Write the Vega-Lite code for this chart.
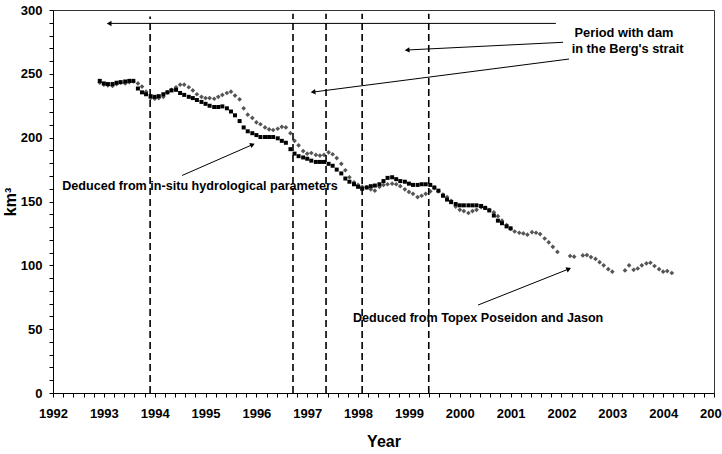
{
  "$schema": "https://vega.github.io/schema/vega-lite/v6.json",
  "width": 661,
  "height": 383,
  "autosize": {"type": "none"},
  "padding": {"left": 53, "top": 10, "right": 8, "bottom": 61},
  "background": "white",
  "config": {
    "view": {"stroke": "#333", "strokeWidth": 1},
    "font": "Liberation Sans",
    "axis": {
      "labelFont": "Liberation Sans", "labelFontWeight": "bold", "labelFontSize": 13, "labelColor": "#000",
      "titleFont": "Liberation Sans", "titleFontWeight": "bold", "titleFontSize": 16, "titleColor": "#000",
      "domainColor": "#000", "tickColor": "#000", "grid": false, "tickSize": 4
    }
  },
  "datasets": {
    "topex": [
      {"t":1992.92,"v":243},{"t":1993.00,"v":241.5},{"t":1993.08,"v":241},{"t":1993.17,"v":240.5},{"t":1993.25,"v":242},{"t":1993.33,"v":243},{"t":1993.42,"v":242.5},{"t":1993.50,"v":243.5},{"t":1993.58,"v":244},{"t":1993.67,"v":242.5},{"t":1993.75,"v":240},{"t":1993.83,"v":236},{"t":1993.92,"v":231},
      {"t":1994.00,"v":230.5},{"t":1994.08,"v":231},{"t":1994.17,"v":232},{"t":1994.25,"v":235.5},{"t":1994.33,"v":237.5},{"t":1994.42,"v":239.5},{"t":1994.50,"v":241.5},{"t":1994.58,"v":241.5},{"t":1994.67,"v":239.5},{"t":1994.75,"v":237},{"t":1994.83,"v":234},{"t":1994.92,"v":232},
      {"t":1995.00,"v":231},{"t":1995.08,"v":231},{"t":1995.17,"v":230.5},{"t":1995.25,"v":232},{"t":1995.33,"v":233.5},{"t":1995.42,"v":235},{"t":1995.50,"v":236},{"t":1995.58,"v":233},{"t":1995.67,"v":230},{"t":1995.75,"v":223},{"t":1995.83,"v":218},{"t":1995.92,"v":215.5},
      {"t":1996.00,"v":212},{"t":1996.08,"v":210.5},{"t":1996.17,"v":208},{"t":1996.25,"v":206.5},{"t":1996.33,"v":206},{"t":1996.42,"v":207},{"t":1996.50,"v":208.5},{"t":1996.58,"v":208},{"t":1996.67,"v":203.5},{"t":1996.75,"v":197.5},{"t":1996.83,"v":194},{"t":1996.92,"v":189.5},
      {"t":1997.00,"v":187.5},{"t":1997.08,"v":188},{"t":1997.17,"v":186.5},{"t":1997.25,"v":186},{"t":1997.33,"v":186.5},{"t":1997.42,"v":188.5},{"t":1997.50,"v":187},{"t":1997.58,"v":184},{"t":1997.67,"v":179.5},{"t":1997.75,"v":174.5},{"t":1997.83,"v":169},{"t":1997.92,"v":165},
      {"t":1998.00,"v":163},{"t":1998.08,"v":161.5},{"t":1998.17,"v":161},{"t":1998.25,"v":159.5},{"t":1998.33,"v":158.5},{"t":1998.42,"v":161.5},{"t":1998.50,"v":163},{"t":1998.58,"v":163.5},{"t":1998.67,"v":164},{"t":1998.75,"v":163.5},{"t":1998.83,"v":162},{"t":1998.92,"v":159.5},
      {"t":1999.00,"v":157.5},{"t":1999.08,"v":156},{"t":1999.17,"v":153.5},{"t":1999.25,"v":154.5},{"t":1999.33,"v":156},{"t":1999.42,"v":158},{"t":1999.50,"v":160.5},{"t":1999.58,"v":158},{"t":1999.67,"v":155.5},{"t":1999.75,"v":153.5},{"t":1999.83,"v":150.5},{"t":1999.92,"v":146},
      {"t":2000.00,"v":143.5},{"t":2000.08,"v":142.5},{"t":2000.17,"v":141},{"t":2000.25,"v":142.5},{"t":2000.33,"v":143.5},{"t":2000.42,"v":145.5},{"t":2000.50,"v":145},{"t":2000.58,"v":143.5},{"t":2000.67,"v":141.5},{"t":2000.75,"v":138.5},{"t":2000.83,"v":135},{"t":2000.92,"v":131.5},
      {"t":2001.00,"v":128.5},{"t":2001.08,"v":126.5},{"t":2001.17,"v":125.5},{"t":2001.25,"v":125},{"t":2001.33,"v":124},{"t":2001.42,"v":126},{"t":2001.50,"v":125.5},{"t":2001.58,"v":124.5},{"t":2001.67,"v":121},{"t":2001.75,"v":118},{"t":2001.83,"v":114.5},{"t":2001.92,"v":110.5},
      {"t":2002.17,"v":107.3},{"t":2002.25,"v":106.8},{"t":2002.42,"v":107.8},{"t":2002.50,"v":108},{"t":2002.58,"v":106.5},{"t":2002.67,"v":105},{"t":2002.75,"v":102.5},{"t":2002.83,"v":100},{"t":2002.92,"v":97},
      {"t":2003.00,"v":95},{"t":2003.25,"v":96},{"t":2003.33,"v":100},{"t":2003.42,"v":96.5},{"t":2003.50,"v":97.5},{"t":2003.58,"v":100},{"t":2003.67,"v":101.5},{"t":2003.75,"v":102},{"t":2003.83,"v":99.5},{"t":2003.92,"v":97},
      {"t":2004.00,"v":95},{"t":2004.08,"v":95.5},{"t":2004.17,"v":94}
    ],
    "insitu": [
      {"t":1992.92,"v":244.5},{"t":1993.00,"v":242.5},{"t":1993.08,"v":242},{"t":1993.17,"v":242},{"t":1993.25,"v":243},{"t":1993.33,"v":243.5},{"t":1993.42,"v":244},{"t":1993.50,"v":244.5},{"t":1993.58,"v":244.5},{"t":1993.67,"v":238.5},{"t":1993.75,"v":235.5},{"t":1993.83,"v":234},{"t":1993.92,"v":232.5},
      {"t":1994.00,"v":232},{"t":1994.08,"v":232.5},{"t":1994.17,"v":234},{"t":1994.25,"v":235.5},{"t":1994.33,"v":237},{"t":1994.42,"v":237.5},{"t":1994.50,"v":235},{"t":1994.58,"v":233.5},{"t":1994.67,"v":232},{"t":1994.75,"v":231},{"t":1994.83,"v":229.5},{"t":1994.92,"v":228},
      {"t":1995.00,"v":226.5},{"t":1995.08,"v":225},{"t":1995.17,"v":224},{"t":1995.25,"v":224},{"t":1995.33,"v":224.5},{"t":1995.42,"v":223},{"t":1995.50,"v":220.5},{"t":1995.58,"v":217.5},{"t":1995.67,"v":213},{"t":1995.75,"v":208},{"t":1995.83,"v":205},{"t":1995.92,"v":203.5},
      {"t":1996.00,"v":202},{"t":1996.08,"v":200.5},{"t":1996.17,"v":200.5},{"t":1996.25,"v":200.5},{"t":1996.33,"v":200.5},{"t":1996.42,"v":199.5},{"t":1996.50,"v":197.5},{"t":1996.58,"v":196},{"t":1996.67,"v":191},{"t":1996.75,"v":187.5},{"t":1996.83,"v":185.5},{"t":1996.92,"v":184.5},
      {"t":1997.00,"v":183.5},{"t":1997.08,"v":182},{"t":1997.17,"v":181},{"t":1997.25,"v":181},{"t":1997.33,"v":181},{"t":1997.42,"v":179.5},{"t":1997.50,"v":178},{"t":1997.58,"v":175},{"t":1997.67,"v":172},{"t":1997.75,"v":168},{"t":1997.83,"v":165.5},{"t":1997.92,"v":163.5},
      {"t":1998.00,"v":161.5},{"t":1998.08,"v":160},{"t":1998.17,"v":161},{"t":1998.25,"v":162},{"t":1998.33,"v":162.5},{"t":1998.42,"v":163.5},{"t":1998.50,"v":166},{"t":1998.58,"v":168.5},{"t":1998.67,"v":169},{"t":1998.75,"v":167.5},{"t":1998.83,"v":166},{"t":1998.92,"v":165.5},
      {"t":1999.00,"v":164},{"t":1999.08,"v":163},{"t":1999.17,"v":163},{"t":1999.25,"v":163.5},{"t":1999.33,"v":163.5},{"t":1999.42,"v":163},{"t":1999.50,"v":161},{"t":1999.58,"v":158.5},{"t":1999.67,"v":154.5},{"t":1999.75,"v":151.5},{"t":1999.83,"v":149.5},{"t":1999.92,"v":148},
      {"t":2000.00,"v":147},{"t":2000.08,"v":147},{"t":2000.17,"v":147},{"t":2000.25,"v":147},{"t":2000.33,"v":147},{"t":2000.42,"v":146.5},{"t":2000.50,"v":145},{"t":2000.58,"v":143},{"t":2000.67,"v":139},{"t":2000.75,"v":135},{"t":2000.83,"v":133},{"t":2000.92,"v":130.5},
      {"t":2001.00,"v":129}
    ],
    "dams": [
      {"t":1993.91,"v":0,"v2":295},{"t":1996.72,"v":0,"v2":297},{"t":1997.37,"v":0,"v2":297},{"t":1998.08,"v":0,"v2":297},{"t":1999.39,"v":0,"v2":297}
    ],
    "arrows": [
      {"t":2001.89,"v":289.5,"t2":1993.12,"v2":289.5},
      {"t":2002.03,"v":274.7,"t2":1998.98,"v2":268.7},
      {"t":2002.15,"v":261.6,"t2":1997.13,"v2":235.8},
      {"t":1994.54,"v":170.4,"t2":1995.91,"v2":194.3},
      {"t":2000.36,"v":68.9,"t2":2002.13,"v2":96.9}
    ],
    "heads": [
      {"t":1993.12,"v":289.5,"dir":270},
      {"t":1998.98,"v":268.7,"dir":267},
      {"t":1997.13,"v":235.8,"dir":263},
      {"t":1995.91,"v":194.3,"dir":67},
      {"t":2002.13,"v":96.9,"dir":68}
    ],
    "leftText": [
      {"label":"Deduced from in-situ hydrological parameters","t":1992.18,"v":162.1},
      {"label":"Deduced from Topex Poseidon and Jason","t":1997.90,"v":58.5}
    ],
    "centerText": [
      {"label":"Period with dam","t":2003.23,"v":281.7},
      {"label":"in the Berg's strait","t":2003.30,"v":269.2}
    ]
  },
  "encoding": {
    "x": {"field": "t", "type": "quantitative", "scale": {"domain": [1992, 2005], "nice": false, "zero": false},
      "axis": {"title": "Year", "values": [1992,1992.2,1992.4,1992.6,1992.8,1993,1993.2,1993.4,1993.6,1993.8,1994,1994.2,1994.4,1994.6,1994.8,1995,1995.2,1995.4,1995.6,1995.8,1996,1996.2,1996.4,1996.6,1996.8,1997,1997.2,1997.4,1997.6,1997.8,1998,1998.2,1998.4,1998.6,1998.8,1999,1999.2,1999.4,1999.6,1999.8,2000,2000.2,2000.4,2000.6,2000.8,2001,2001.2,2001.4,2001.6,2001.8,2002,2002.2,2002.4,2002.6,2002.8,2003,2003.2,2003.4,2003.6,2003.8,2004,2004.2,2004.4,2004.6,2004.8,2005],
        "labelExpr": "datum.value % 1 == 0 ? format(datum.value, 'd') : ''", "labelFlush": false, "labelOverlap": false, "labelPadding": 10, "titlePadding": 13}},
    "y": {"field": "v", "type": "quantitative", "scale": {"domain": [0, 300], "nice": false},
      "axis": {"title": "km³", "values": [0,10,20,30,40,50,60,70,80,90,100,110,120,130,140,150,160,170,180,190,200,210,220,230,240,250,260,270,280,290,300],
        "labelExpr": "datum.value % 50 == 0 ? format(datum.value, 'd') : ''", "labelFlush": false, "labelOverlap": false, "labelPadding": 7, "titlePadding": 2}}
  },
  "layer": [
    {
      "data": {"name": "topex"},
      "mark": {"type": "point", "shape": "diamond", "filled": true, "color": "#555555", "size": 22, "opacity": 1}
    },
    {
      "data": {"name": "insitu"},
      "mark": {"type": "point", "shape": "square", "filled": true, "color": "#000", "size": 16, "opacity": 1}
    },
    {
      "data": {"name": "dams"},
      "mark": {"type": "rule", "color": "#000", "strokeWidth": 1.6, "strokeDash": [7, 4]},
      "encoding": {"y2": {"field": "v2"}}
    },
    {
      "data": {"name": "arrows"},
      "mark": {"type": "rule", "color": "#000", "strokeWidth": 1},
      "encoding": {"x2": {"field": "t2"}, "y2": {"field": "v2"}}
    },
    {
      "data": {"name": "heads"},
      "mark": {"type": "point", "shape": "triangle", "filled": true, "color": "#000", "size": 30, "opacity": 1},
      "encoding": {"angle": {"field": "dir", "type": "quantitative", "scale": null}}
    },
    {
      "data": {"name": "leftText"},
      "mark": {"type": "text", "align": "left", "baseline": "middle", "font": "Liberation Sans", "fontWeight": "bold", "fontSize": 12.6, "color": "#000"},
      "encoding": {"text": {"field": "label"}}
    },
    {
      "data": {"name": "centerText"},
      "mark": {"type": "text", "align": "center", "baseline": "middle", "font": "Liberation Sans", "fontWeight": "bold", "fontSize": 12.8, "color": "#000"},
      "encoding": {"text": {"field": "label"}}
    }
  ]
}
